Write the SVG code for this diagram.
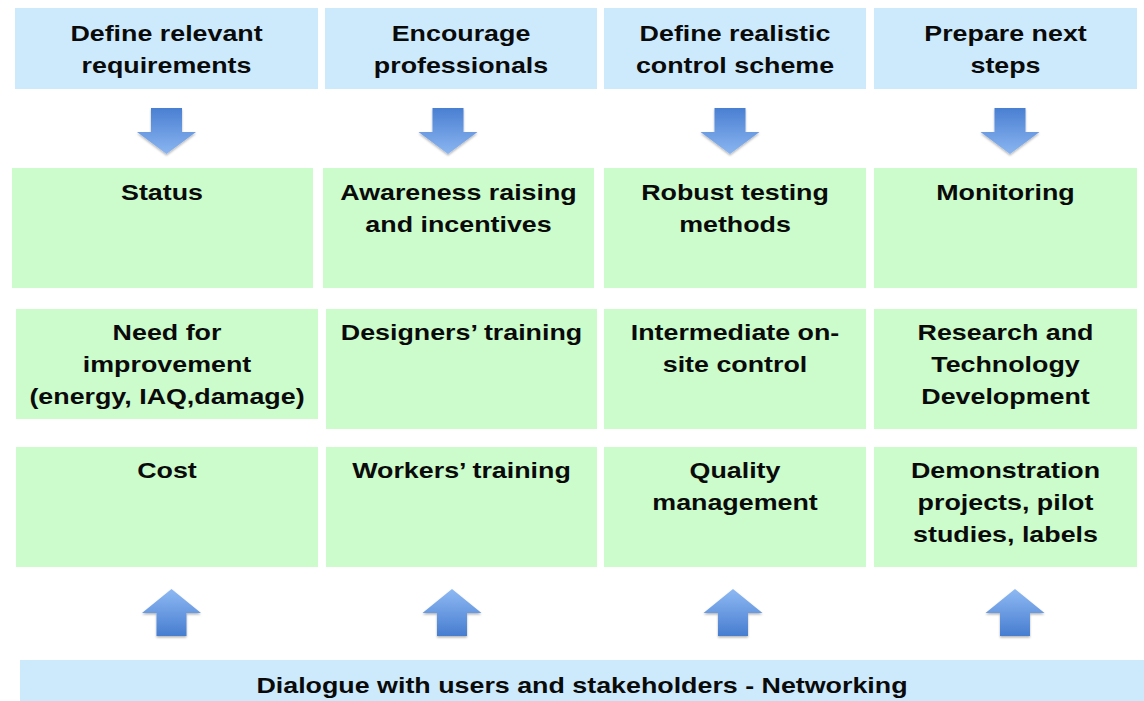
<svg xmlns="http://www.w3.org/2000/svg" width="1144" height="701" viewBox="0 0 1144 701">
  <defs>
    <style>
      .head { fill: #cdeafd; }
      .cell { fill: #ccfccc; }
      .t { font-family: "Liberation Sans", Arial, sans-serif; font-weight: bold; font-size: 22px; fill: #0a0a0a; text-anchor: middle; }
    </style>
    <linearGradient id="gDown" x1="0" y1="0" x2="0" y2="1">
      <stop offset="0" stop-color="#4a7fd2"/>
      <stop offset="1" stop-color="#8ab5f0"/>
    </linearGradient>
    <linearGradient id="gUp" x1="0" y1="0" x2="0" y2="1">
      <stop offset="0" stop-color="#8eb9f3"/>
      <stop offset="1" stop-color="#477dd0"/>
    </linearGradient>
    <filter id="shadow" x="-20%" y="-20%" width="140%" height="150%">
      <feDropShadow dx="0" dy="1.5" stdDeviation="1.2" flood-color="#000" flood-opacity="0.3"/>
    </filter>
    <path id="arrowDown" d="M-15.5,0 H15.5 V24 H29.5 L0,46 L-29.5,24 H-15.5 Z" fill="url(#gDown)" filter="url(#shadow)"/>
    <path id="arrowUp" d="M0,0 L29.5,24 H15 V47 H-15 V24 H-29.5 Z" fill="url(#gUp)" filter="url(#shadow)"/>
  </defs>

  <rect width="1144" height="701" fill="#ffffff"/>

  <!-- column headers -->
  <g id="head1">
    <rect class="head" x="15" y="8" width="303" height="81"/>
    <text class="t" transform="translate(166.5,41) scale(1.22,1)">Define relevant</text>
    <text class="t" transform="translate(166.5,73) scale(1.22,1)">requirements</text>
  </g>
  <g id="head2">
    <rect class="head" x="325" y="8" width="272" height="81"/>
    <text class="t" transform="translate(461,41) scale(1.22,1)">Encourage</text>
    <text class="t" transform="translate(461,73) scale(1.22,1)">professionals</text>
  </g>
  <g id="head3">
    <rect class="head" x="604" y="8" width="262" height="81"/>
    <text class="t" transform="translate(735,41) scale(1.22,1)">Define realistic</text>
    <text class="t" transform="translate(735,73) scale(1.22,1)">control scheme</text>
  </g>
  <g id="head4">
    <rect class="head" x="874" y="8" width="263" height="81"/>
    <text class="t" transform="translate(1005.5,41) scale(1.22,1)">Prepare next</text>
    <text class="t" transform="translate(1005.5,73) scale(1.22,1)">steps</text>
  </g>

  <!-- row 1 -->
  <g id="status">
    <rect class="cell" x="12" y="168" width="301" height="120"/>
    <text class="t" transform="translate(162,200) scale(1.22,1)">Status</text>
  </g>
  <g id="awareness">
    <rect class="cell" x="323" y="168" width="271" height="120"/>
    <text class="t" transform="translate(458.5,200) scale(1.22,1)">Awareness raising</text>
    <text class="t" transform="translate(458.5,232) scale(1.22,1)">and incentives</text>
  </g>
  <g id="testing">
    <rect class="cell" x="604" y="168" width="262" height="120"/>
    <text class="t" transform="translate(735,200) scale(1.22,1)">Robust testing</text>
    <text class="t" transform="translate(735,232) scale(1.22,1)">methods</text>
  </g>
  <g id="monitoring">
    <rect class="cell" x="874" y="168" width="263" height="120"/>
    <text class="t" transform="translate(1005.5,200) scale(1.22,1)">Monitoring</text>
  </g>

  <!-- row 2 -->
  <g id="improvement">
    <rect class="cell" x="16" y="309" width="302" height="110"/>
    <text class="t" transform="translate(167,340) scale(1.22,1)">Need for</text>
    <text class="t" transform="translate(167,372) scale(1.22,1)">improvement</text>
    <text class="t" transform="translate(167,404) scale(1.22,1)">(energy, IAQ,damage)</text>
  </g>
  <g id="designers">
    <rect class="cell" x="326" y="309" width="271" height="120"/>
    <text class="t" transform="translate(461.5,340) scale(1.22,1)">Designers’ training</text>
  </g>
  <g id="onsite">
    <rect class="cell" x="604" y="309" width="262" height="120"/>
    <text class="t" transform="translate(735,340) scale(1.22,1)">Intermediate on-</text>
    <text class="t" transform="translate(735,372) scale(1.22,1)">site control</text>
  </g>
  <g id="research">
    <rect class="cell" x="874" y="309" width="263" height="120"/>
    <text class="t" transform="translate(1005.5,340) scale(1.22,1)">Research and</text>
    <text class="t" transform="translate(1005.5,372) scale(1.22,1)">Technology</text>
    <text class="t" transform="translate(1005.5,404) scale(1.22,1)">Development</text>
  </g>

  <!-- row 3 -->
  <g id="cost">
    <rect class="cell" x="16" y="447" width="302" height="120"/>
    <text class="t" transform="translate(167,478) scale(1.22,1)">Cost</text>
  </g>
  <g id="workers">
    <rect class="cell" x="326" y="447" width="271" height="120"/>
    <text class="t" transform="translate(461.5,478) scale(1.22,1)">Workers’ training</text>
  </g>
  <g id="quality">
    <rect class="cell" x="604" y="447" width="262" height="120"/>
    <text class="t" transform="translate(735,478) scale(1.22,1)">Quality</text>
    <text class="t" transform="translate(735,510) scale(1.22,1)">management</text>
  </g>
  <g id="demonstration">
    <rect class="cell" x="874" y="447" width="263" height="120"/>
    <text class="t" transform="translate(1005.5,478) scale(1.22,1)">Demonstration</text>
    <text class="t" transform="translate(1005.5,510) scale(1.22,1)">projects, pilot</text>
    <text class="t" transform="translate(1005.5,542) scale(1.22,1)">studies, labels</text>
  </g>

  <!-- base bar -->
  <g id="dialogue">
    <rect class="head" x="20" y="660" width="1124" height="41"/>
    <text class="t" transform="translate(582,693) scale(1.22,1)">Dialogue with users and stakeholders - Networking</text>
  </g>

  <!-- block arrows -->
  <g id="connectors">
    <use href="#arrowDown" x="166.5" y="108"/>
    <use href="#arrowDown" x="448" y="108"/>
    <use href="#arrowDown" x="730" y="108"/>
    <use href="#arrowDown" x="1010" y="108"/>
    <use href="#arrowUp" x="171.5" y="589"/>
    <use href="#arrowUp" x="452" y="589"/>
    <use href="#arrowUp" x="733" y="589"/>
    <use href="#arrowUp" x="1015" y="589"/>
  </g>
</svg>
